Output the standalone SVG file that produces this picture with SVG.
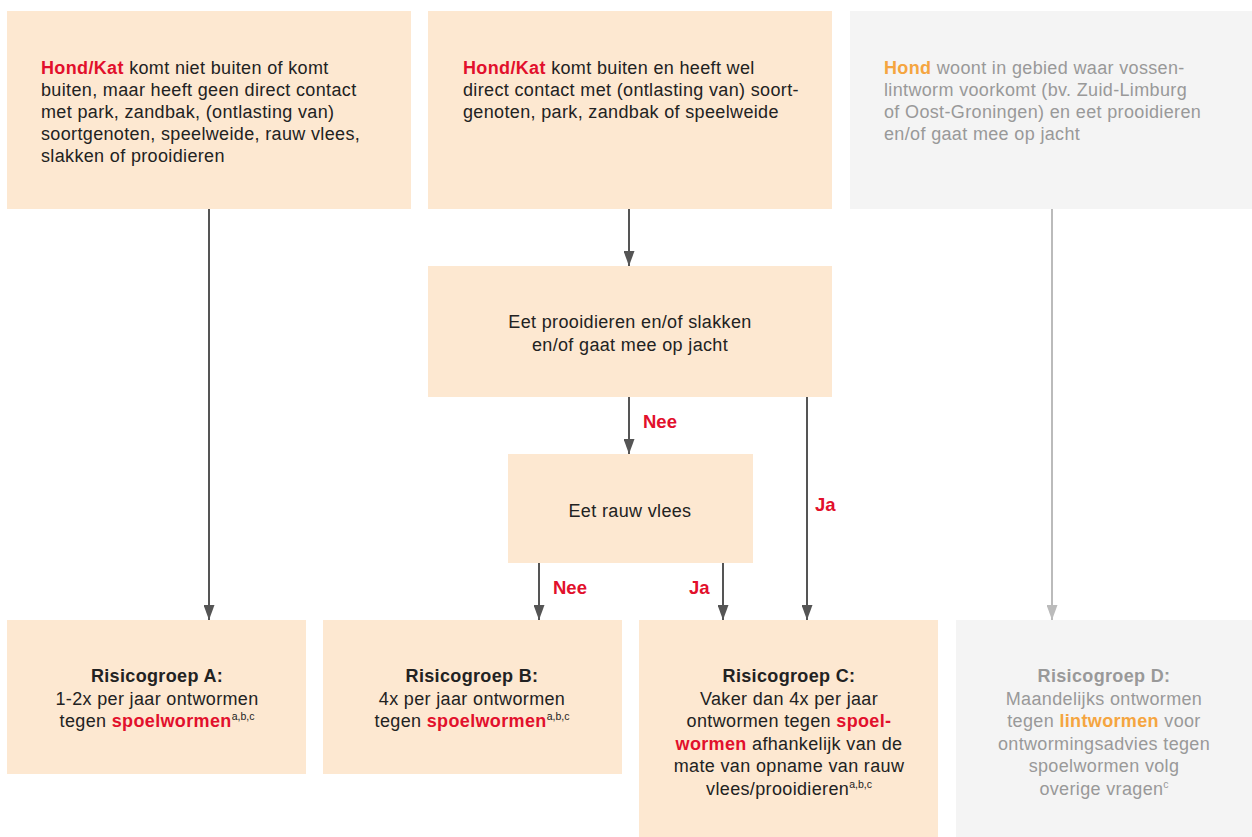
<svg xmlns="http://www.w3.org/2000/svg" width="1252" height="837" viewBox="0 0 1252 837">
<style>
.pe{fill:#fde8d1}
.gr{fill:#f4f4f4}
text{font-family:"Liberation Sans",Arial,sans-serif;font-size:18px;letter-spacing:0.35px;fill:#222}
.m{text-anchor:middle}
.g{fill:#999}
.b{font-weight:bold}
.r{fill:#e2102c;font-weight:bold}
.o{fill:#f5a540;font-weight:bold}
.lab{fill:#e2102c;font-weight:bold;font-size:18.5px;letter-spacing:0}
.sup{font-size:10.5px;letter-spacing:0}
.ln{stroke:#555;stroke-width:2;fill:none}
.lng{stroke:#bbb;stroke-width:2;fill:none}
</style>
<defs>
<marker id="a1" markerWidth="15" markerHeight="11" refX="15" refY="5.5" orient="auto" markerUnits="userSpaceOnUse" viewBox="0 0 15 11">
<path d="M0,0 L15,5.5 L0,11 Z" fill="#555"/>
</marker>
<marker id="a2" markerWidth="15" markerHeight="11" refX="15" refY="5.5" orient="auto" markerUnits="userSpaceOnUse" viewBox="0 0 15 11">
<path d="M0,0 L15,5.5 L0,11 Z" fill="#bbb"/>
</marker>
</defs>

<g id="connectors">
<line class="ln" x1="209" y1="209" x2="209" y2="620" marker-end="url(#a1)"/>
<line class="ln" x1="629" y1="209" x2="629" y2="266" marker-end="url(#a1)"/>
<line class="ln" x1="629" y1="397" x2="629" y2="454" marker-end="url(#a1)"/>
<line class="ln" x1="807" y1="397" x2="807" y2="620" marker-end="url(#a1)"/>
<line class="ln" x1="539" y1="563" x2="539" y2="620" marker-end="url(#a1)"/>
<line class="ln" x1="723" y1="563" x2="723" y2="620" marker-end="url(#a1)"/>
<line class="lng" x1="1052" y1="209" x2="1052" y2="620" marker-end="url(#a2)"/>
<text class="lab" x="643" y="428">Nee</text>
<text class="lab" x="815" y="511">Ja</text>
<text class="lab" x="553" y="594">Nee</text>
<text class="lab" x="689" y="594">Ja</text>
</g>

<g id="n1">
<rect class="pe" x="7" y="11" width="404" height="198"/>
<text x="41" y="74"><tspan class="r">Hond/Kat</tspan> komt niet buiten of komt</text>
<text x="41" y="96">buiten, maar heeft geen direct contact</text>
<text x="41" y="118">met park, zandbak, (ontlasting van)</text>
<text x="41" y="140">soortgenoten, speelweide, rauw vlees,</text>
<text x="41" y="162">slakken of prooidieren</text>
</g>

<g id="n2">
<rect class="pe" x="428" y="11" width="404" height="198"/>
<text x="463" y="74"><tspan class="r">Hond/Kat</tspan> komt buiten en heeft wel</text>
<text x="463" y="96">direct contact met (ontlasting van) soort-</text>
<text x="463" y="118">genoten, park, zandbak of speelweide</text>
</g>

<g id="n3">
<rect class="gr" x="850" y="11" width="402" height="198"/>
<text class="g" x="884" y="74"><tspan class="o">Hond</tspan> woont in gebied waar vossen-</text>
<text class="g" x="884" y="96">lintworm voorkomt (bv. Zuid-Limburg</text>
<text class="g" x="884" y="118">of Oost-Groningen) en eet prooidieren</text>
<text class="g" x="884" y="140">en/of gaat mee op jacht</text>
</g>

<g id="n4">
<rect class="pe" x="428" y="266" width="404" height="131"/>
<text class="m" x="630" y="328">Eet prooidieren en/of slakken</text>
<text class="m" x="630" y="351">en/of gaat mee op jacht</text>
</g>

<g id="n5">
<rect class="pe" x="508" y="454" width="245" height="109"/>
<text class="m" x="630" y="517">Eet rauw vlees</text>
</g>

<g id="nA">
<rect class="pe" x="7" y="620" width="299" height="154"/>
<text class="m b" x="157" y="682">Risicogroep A:</text>
<text class="m" x="157" y="705">1-2x per jaar ontwormen</text>
<text class="m" x="157" y="727">tegen <tspan class="r">spoelwormen</tspan><tspan class="sup" dy="-7">a,b,c</tspan></text>
</g>

<g id="nB">
<rect class="pe" x="323" y="620" width="299" height="154"/>
<text class="m b" x="472" y="682">Risicogroep B:</text>
<text class="m" x="472" y="705">4x per jaar ontwormen</text>
<text class="m" x="472" y="727">tegen <tspan class="r">spoelwormen</tspan><tspan class="sup" dy="-7">a,b,c</tspan></text>
</g>

<g id="nC">
<rect class="pe" x="639" y="620" width="299" height="217"/>
<text class="m b" x="789" y="682">Risicogroep C:</text>
<text class="m" x="789" y="705">Vaker dan 4x per jaar</text>
<text class="m" x="789" y="727">ontwormen tegen <tspan class="r">spoel-</tspan></text>
<text class="m" x="789" y="750"><tspan class="r">wormen</tspan> afhankelijk van de</text>
<text class="m" x="789" y="772">mate van opname van rauw</text>
<text class="m" x="789" y="795">vlees/prooidieren<tspan class="sup" dy="-7">a,b,c</tspan></text>
</g>

<g id="nD">
<rect class="gr" x="956" y="620" width="296" height="217"/>
<text class="m g b" x="1104" y="682">Risicogroep D:</text>
<text class="m g" x="1104" y="705">Maandelijks ontwormen</text>
<text class="m g" x="1104" y="727">tegen <tspan class="o">lintwormen</tspan> voor</text>
<text class="m g" x="1104" y="750">ontwormingsadvies tegen</text>
<text class="m g" x="1104" y="772">spoelwormen volg</text>
<text class="m g" x="1104" y="795">overige vragen<tspan class="sup" dy="-7">c</tspan></text>
</g>
</svg>
